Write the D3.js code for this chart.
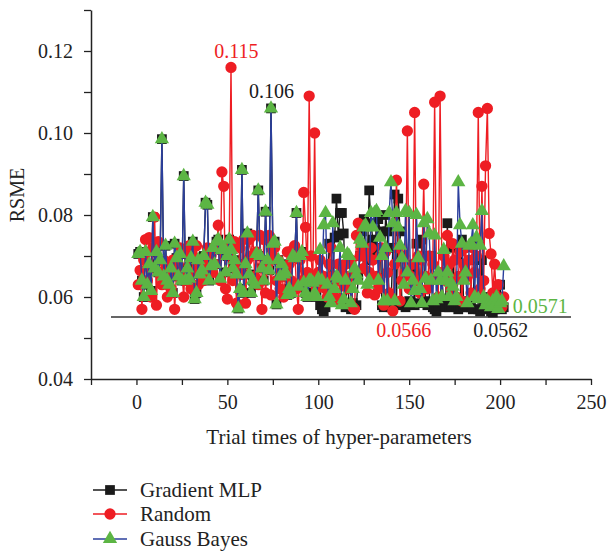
<!DOCTYPE html>
<html>
<head>
<meta charset="utf-8">
<script src="https://cdn.jsdelivr.net/npm/d3@7"></script>
<style>
  body { margin: 0; background: #fff; }
  svg { display: block; font-family: "Liberation Serif", "DejaVu Serif", serif; }
</style>
</head>
<body>
<svg id="chart" width="607" height="553"></svg>
<script>
// ---------------- data ----------------
const seriesNames = ["Gradient MLP", "Random", "Gauss Bayes"];

const gradientMLP = [
  0.0705,0.0710,0.0640,0.0600,0.0710,0.0630,0.0680,0.0615,0.0795,0.0670,
  0.0710,0.0660,0.0690,0.0985,0.0650,0.0725,0.0640,0.0630,0.0670,0.0610,
  0.0730,0.0695,0.0650,0.0705,0.0640,0.0895,0.0640,0.0670,0.0645,0.0695,
  0.0735,0.0595,0.0610,0.0690,0.0655,0.0665,0.0700,0.0830,0.0825,0.0640,
  0.0675,0.0720,0.0680,0.0735,0.0740,0.0645,0.0715,0.0720,0.0660,0.0700,
  0.0740,0.0715,0.0670,0.0690,0.0655,0.0572,0.0620,0.0910,0.0610,0.0680,
  0.0755,0.0655,0.0610,0.0640,0.0630,0.0705,0.0860,0.0700,0.0670,0.0640,
  0.0808,0.0690,0.0665,0.1060,0.0730,0.0735,0.0582,0.0690,0.0650,0.0680,
  0.0655,0.0660,0.0605,0.0620,0.0610,0.0700,0.0695,0.0805,0.0625,0.0700,
  0.0710,0.0635,0.0610,0.0600,0.0640,0.0640,0.0635,0.0610,0.0600,0.0645,
  0.0580,0.0570,0.0565,0.0575,0.0590,0.0730,0.0600,0.0650,0.0745,0.0840,
  0.0750,0.0805,0.0805,0.0755,0.0575,0.0650,0.0580,0.0570,0.0585,0.0575,
  0.0580,0.0650,0.0700,0.0760,0.0790,0.0710,0.0690,0.0860,0.0780,0.0740,
  0.0720,0.0700,0.0790,0.0760,0.0580,0.0575,0.0800,0.0760,0.0580,0.0575,
  0.0720,0.0850,0.0580,0.0840,0.0760,0.0585,0.0580,0.0575,0.0580,0.0590,
  0.0585,0.0660,0.0580,0.0730,0.0690,0.0585,0.0740,0.0700,0.0590,0.0580,
  0.0585,0.0700,0.0575,0.0570,0.0565,0.0580,0.0590,0.0650,0.0585,0.0575,
  0.0780,0.0575,0.0580,0.0720,0.0585,0.0575,0.0570,0.0580,0.0740,0.0575,
  0.0580,0.0575,0.0590,0.0575,0.0570,0.0690,0.0730,0.0570,0.0565,0.0690,
  0.0575,0.0600,0.0570,0.0575,0.0565,0.0562,0.0570,0.0575,0.0590,0.0630,
  0.0570,0.0575
];

const randomSearch = [
  0.0630,0.0665,0.0570,0.0690,0.0740,0.0640,0.0745,0.0600,0.0720,0.0795,
  0.0580,0.0735,0.0660,0.0630,0.0690,0.0680,0.0600,0.0650,0.0620,0.0690,
  0.0570,0.0655,0.0680,0.0720,0.0660,0.0600,0.0710,0.0640,0.0725,0.0620,
  0.0700,0.0660,0.0725,0.0630,0.0670,0.0690,0.0640,0.0660,0.0720,0.0680,
  0.0700,0.0660,0.0680,0.0720,0.0775,0.0640,0.0905,0.0870,0.0620,0.0595,
  0.0720,0.1160,0.0640,0.0735,0.0585,0.0680,0.0720,0.0655,0.0740,0.0585,
  0.0690,0.0740,0.0700,0.0750,0.0650,0.0710,0.0630,0.0750,0.0570,0.0740,
  0.0610,0.0680,0.0750,0.0605,0.0700,0.0720,0.0640,0.0690,0.0620,0.0670,
  0.0600,0.0650,0.0710,0.0680,0.0640,0.0715,0.0725,0.0620,0.0570,0.0690,
  0.0640,0.0855,0.0770,0.0660,0.1090,0.0700,0.0640,0.1000,0.0620,0.0660,
  0.0690,0.0640,0.0650,0.0620,0.0600,0.0680,0.0720,0.0650,0.0600,0.0640,
  0.0680,0.0590,0.0660,0.0630,0.0680,0.0620,0.0650,0.0690,0.0575,0.0570,
  0.0750,0.0780,0.0700,0.0720,0.0670,0.0700,0.0610,0.0660,0.0720,0.0690,
  0.0605,0.0650,0.0620,0.0700,0.0720,0.0580,0.0710,0.0660,0.0610,0.0600,
  0.0566,0.0680,0.0885,0.0720,0.0590,0.0640,0.0700,0.0660,0.1005,0.0620,
  0.0650,0.0680,0.1050,0.0640,0.0700,0.0610,0.0690,0.0875,0.0650,0.0620,
  0.0700,0.0640,0.0680,0.1075,0.0650,0.0600,0.1090,0.0660,0.0700,0.0640,
  0.0750,0.0680,0.0620,0.0730,0.0690,0.0600,0.0650,0.0710,0.0590,0.0680,
  0.0720,0.0650,0.0690,0.0610,0.0720,0.0660,0.0700,0.1050,0.0620,0.0870,
  0.0640,0.0920,0.1060,0.0755,0.0705,0.0610,0.0680,0.0600,0.0630,0.0590,
  0.0575,0.0600
];

const gaussBayes = [
  0.0705,0.0710,0.0640,0.0600,0.0710,0.0630,0.0680,0.0615,0.0795,0.0670,
  0.0710,0.0660,0.0690,0.0985,0.0650,0.0725,0.0640,0.0630,0.0670,0.0610,
  0.0730,0.0695,0.0650,0.0705,0.0640,0.0895,0.0640,0.0670,0.0645,0.0695,
  0.0735,0.0595,0.0610,0.0690,0.0655,0.0665,0.0700,0.0830,0.0825,0.0640,
  0.0675,0.0720,0.0680,0.0735,0.0740,0.0645,0.0715,0.0720,0.0660,0.0700,
  0.0740,0.0715,0.0670,0.0690,0.0655,0.0572,0.0620,0.0910,0.0610,0.0680,
  0.0755,0.0655,0.0610,0.0640,0.0630,0.0705,0.0860,0.0700,0.0670,0.0640,
  0.0808,0.0690,0.0665,0.1060,0.0730,0.0735,0.0582,0.0690,0.0650,0.0680,
  0.0655,0.0660,0.0605,0.0620,0.0610,0.0700,0.0695,0.0805,0.0625,0.0700,
  0.0710,0.0635,0.0610,0.0600,0.0640,0.0640,0.0635,0.0610,0.0600,0.0645,
  0.0715,0.0640,0.0775,0.0805,0.0630,0.0600,0.0585,0.0780,0.0620,0.0650,
  0.0645,0.0720,0.0580,0.0595,0.0640,0.0705,0.0700,0.0585,0.0620,0.0670,
  0.0655,0.0640,0.0740,0.0730,0.0770,0.0775,0.0630,0.0640,0.0805,0.0770,
  0.0805,0.0810,0.0640,0.0745,0.0700,0.0590,0.0720,0.0590,0.0805,0.0880,
  0.0780,0.0590,0.0805,0.0770,0.0725,0.0695,0.0630,0.0810,0.0660,0.0805,
  0.0585,0.0640,0.0615,0.0800,0.0695,0.0620,0.0585,0.0780,0.0645,0.0790,
  0.0755,0.0640,0.0590,0.0750,0.0595,0.0660,0.0640,0.0600,0.0715,0.0640,
  0.0660,0.0600,0.0635,0.0625,0.0590,0.0600,0.0880,0.0775,0.0730,0.0640,
  0.0660,0.0585,0.0725,0.0730,0.0775,0.0600,0.0745,0.0595,0.0725,0.0810,
  0.0600,0.0580,0.0590,0.0585,0.0575,0.0590,0.0580,0.0600,0.0571,0.0585,
  0.0590,0.0675
];

const xTickValues = [-25, 0, 25, 50, 75, 100, 125, 150, 175, 200, 225, 250];
const xTickLabels = ["", "0", "", "50", "", "100", "", "150", "", "200", "", "250"];
const yTickValues = [0.04, 0.05, 0.06, 0.07, 0.08, 0.09, 0.10, 0.11, 0.12, 0.13];
const yTickLabels = ["0.04", "", "0.06", "", "0.08", "", "0.10", "", "0.12", ""];

const baselineValue = 0.0551;
const baselineRange = [-14, 239];

const annotations = [
  { text: "0.115",  x: 55,    y: 0.1183, color: "#ee1d23", anchor: "middle" },
  { text: "0.106",  x: 74.3,  y: 0.1085, color: "#1a1a1a", anchor: "middle" },
  { text: "0.0566", x: 147,   y: 0.0502, color: "#ee1d23", anchor: "middle" },
  { text: "0.0562", x: 200.4, y: 0.0502, color: "#1a1a1a", anchor: "middle" },
  { text: "0.0571", x: 207,   y: 0.0561, color: "#5cb544", anchor: "start" }
];

// ---------------- drawing ----------------
const svg = d3.select("#chart");
const x = d3.scaleLinear().domain([-25, 250]).range([91, 591]);
const y = d3.scaleLinear().domain([0.04, 0.13]).range([379, 10]);

const styles = {
  "Gradient MLP": { line: "#1a1a1a", fill: "#1a1a1a", shape: d3.symbolSquare, size: 95 },
  "Random":       { line: "#ee1d23", fill: "#ee1d23", shape: d3.symbolCircle, size: 100 },
  "Gauss Bayes":  { line: "#2b3f9c", fill: "#5cb544", shape: d3.symbolTriangle, size: 88 }
};
const dataBy = { "Gradient MLP": gradientMLP, "Random": randomSearch, "Gauss Bayes": gaussBayes };

// axes
const yAxis = d3.axisLeft(y).tickValues(yTickValues)
  .tickFormat((d, i) => yTickLabels[i]).tickSize(7).tickSizeOuter(0).tickPadding(11);
const gy = svg.append("g").attr("transform", `translate(${x(-25)},0)`).call(yAxis);

const xAxis = d3.axisBottom(x).tickValues(xTickValues)
  .tickFormat((d, i) => xTickLabels[i]).tickSize(6).tickSizeOuter(0).tickPadding(10);
const gx = svg.append("g").attr("transform", `translate(0,${y(0.04)})`).call(xAxis);

[gx, gy].forEach(g => {
  g.selectAll("path.domain").attr("stroke", "#222").attr("stroke-width", 1.5);
  g.selectAll(".tick line").attr("stroke", "#222").attr("stroke-width", 1.3);
  g.selectAll(".tick text").attr("fill", "#222").style("font-size", "20px")
    .style("font-family", "'Liberation Serif', serif");
});
gy.selectAll(".tick text").attr("dy", "0.34em");

// baseline
svg.append("line")
  .attr("x1", x(baselineRange[0])).attr("x2", x(baselineRange[1]))
  .attr("y1", y(baselineValue)).attr("y2", y(baselineValue))
  .attr("stroke", "#333").attr("stroke-width", 1.5);

// series
const lineGen = d3.line().x((d, i) => x(i + 1)).y(d => y(d));
seriesNames.forEach(name => {
  const st = styles[name];
  const vals = dataBy[name];
  const g = svg.append("g");
  g.append("path").datum(vals).attr("d", lineGen)
    .attr("fill", "none").attr("stroke", st.line).attr("stroke-width", 1.4);
  g.selectAll("path.m").data(vals).join("path").attr("class", "m")
    .attr("transform", (d, i) => `translate(${x(i + 1)},${y(d)})`)
    .attr("d", d3.symbol().type(st.shape).size(st.size))
    .attr("fill", st.fill);
});

// annotations
svg.selectAll("text.ann").data(annotations).join("text").attr("class", "ann")
  .attr("x", d => x(d.x)).attr("y", d => y(d.y))
  .attr("text-anchor", d => d.anchor).attr("fill", d => d.color)
  .style("font-size", "20px").text(d => d.text);

// axis titles
svg.append("text").attr("x", 339).attr("y", 444).attr("text-anchor", "middle")
  .attr("fill", "#222").style("font-size", "21px").text("Trial times of hyper-parameters");
svg.append("text").attr("transform", "translate(24,195) rotate(-90)").attr("text-anchor", "middle")
  .attr("fill", "#222").style("font-size", "20px").text("RSME");

// legend
const legendY = [490, 514, 539];
seriesNames.forEach((name, i) => {
  const st = styles[name];
  const g = svg.append("g").attr("transform", `translate(0,${legendY[i]})`);
  g.append("line").attr("x1", 93).attr("x2", 127).attr("y1", 0).attr("y2", 0)
    .attr("stroke", st.line).attr("stroke-width", 1.4);
  g.append("path").attr("transform", "translate(110,0)")
    .attr("d", d3.symbol().type(st.shape).size(st.size)).attr("fill", st.fill);
  g.append("text").attr("x", 140).attr("y", 7).attr("fill", "#222")
    .style("font-size", "21px").text(name);
});
</script>
</body>
</html>
